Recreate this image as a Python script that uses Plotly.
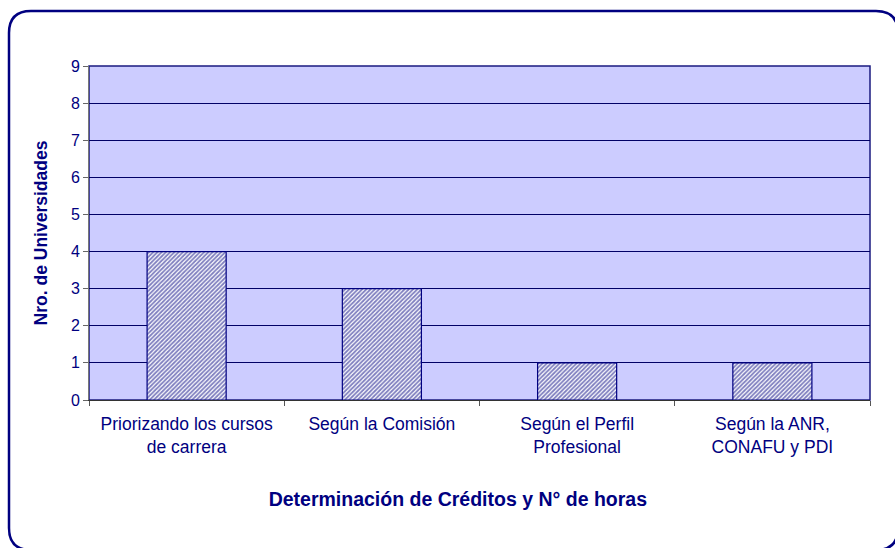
import plotly.graph_objects as go

categories = ["Priorizando los cursos<br>de carrera", "Según la Comisión",
              "Según el Perfil<br>Profesional", "Según la ANR,<br>CONAFU y PDI"]
values = [4, 3, 1, 1]
y_ticks = list(range(0, 10))

NAVY = "#000080"
W, H = 895, 548
L, T = 89, 66
pw, ph = 781, 334
R, B = W - L - pw, H - T - ph

def px(x):
    return (x - L) / pw

def py(y):
    return (T + ph - y) / ph

fig = go.Figure(go.Bar(
    x=categories, y=values,
    marker=dict(color="white", line=dict(color=NAVY, width=1.2),
                pattern=dict(shape="/", fgcolor=NAVY, bgcolor="white", size=3, solidity=0.6)),
    width=0.405,
))

# rounded border of chart area (screen coords)
x0, x1, y0, y1 = px(9), px(898), py(11), py(550)
rx, ry = 22 / pw, 22 / ph
path = (f"M {x0 + rx} {y1} Q {x0} {y1} {x0} {y1 + ry} L {x0} {y0 - ry} Q {x0} {y0} {x0 + rx} {y0} "
        f"L {x1 - rx} {y0} Q {x1} {y0} {x1} {y0 - ry} L {x1} {y1 + ry} Q {x1} {y1} {x1 - rx} {y1} Z")
fig.add_shape(type="path", path=path, xref="paper", yref="paper",
              line=dict(color=NAVY, width=2.5), layer="above")

fig.update_layout(
    width=W, height=H,
    margin=dict(l=L, r=R, t=T, b=B),
    paper_bgcolor="white", plot_bgcolor="#CCCCFF",
    font=dict(family="Liberation Sans, Arial, sans-serif", size=16, color=NAVY),
    showlegend=False,
    xaxis=dict(
        tickson="boundaries", ticks="outside", ticklen=5, tickcolor="#555555",
        showline=True, linecolor="#333333", linewidth=1, mirror=False,
        showgrid=False, tickfont=dict(size=17.5, color=NAVY), ticklabelstandoff=8,
        title=dict(text="<b>Determinación de Créditos y N° de horas</b>" + "&nbsp;" * 8,
                   font=dict(size=19.5, color=NAVY), standoff=36),
    ),
    yaxis=dict(
        range=[0, 9], tickvals=y_ticks, ticks="outside", ticklen=5, tickcolor="#666666",
        showline=True, linecolor="#777777", linewidth=1,
        showgrid=True, gridcolor="#000066", gridwidth=1, zeroline=False,
        tickfont=dict(size=16, color=NAVY),
        title=dict(text="<b>Nro. de Universidades</b>", font=dict(size=17.5, color=NAVY), standoff=18),
    ),
)
fig.add_shape(type="rect", xref="paper", yref="paper", x0=0, x1=1, y0=0, y1=1,
              line=dict(color="#1a1a80", width=1.5), layer="below")

fig.write_html("out.html", config={"displayModeBar": False},
               post_script="document.body.style.margin='0';document.body.style.overflow='hidden';")
